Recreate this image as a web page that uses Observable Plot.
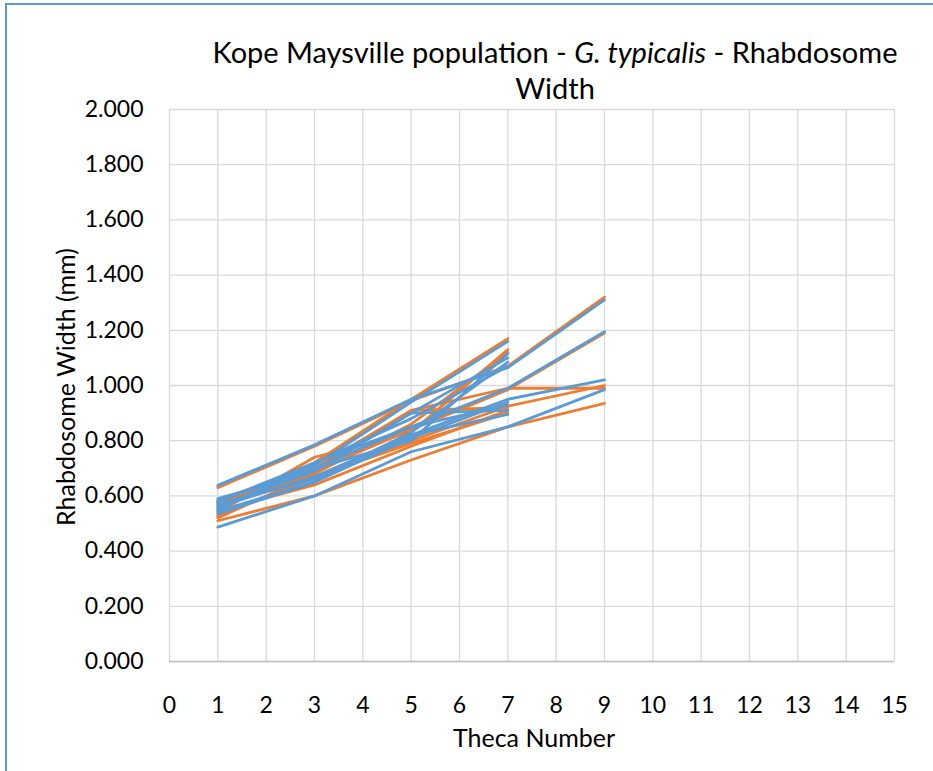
<!DOCTYPE html>
<html>
<head>
<meta charset="utf-8">
<script src="https://cdn.jsdelivr.net/npm/d3@7"></script>
<script src="https://cdn.jsdelivr.net/npm/@observablehq/plot@0.6"></script>
<style>
  html, body { margin: 0; padding: 0; background: #fff; }
  #wrap { position: relative; width: 933px; height: 771px; overflow: hidden; font-family: Lato, "Open Sans", sans-serif; color: #000; }
  #frame { position: absolute; left: 5px; top: 3px; width: 940px; height: 780px; border-top: 2px solid #5B9BD5; border-left: 2px solid #5B9BD5; box-sizing: border-box; pointer-events: none; }
  #title { position: absolute; left: 175px; width: 760px; top: 34px; text-align: center; font-size: 29px; line-height: 36px; }
  #ylabel { position: absolute; left: 65px; top: 387px; transform: translate(-50%, -50%) rotate(-90deg); white-space: nowrap; font-size: 25px; }
  #xlabel { position: absolute; left: 534px; top: 737px; transform: translate(-50%, -50%); white-space: nowrap; font-size: 25px; }
  #chart { position: absolute; left: 0; top: 0; }
</style>
</head>
<body>
<div id="wrap">
  <div id="chart"></div>
  <div id="frame"></div>
  <div id="title">Kope Maysville population - <i>G. typicalis</i> - Rhabdosome<br>Width</div>
  <div id="ylabel">Rhabdosome Width (mm)</div>
  <div id="xlabel">Theca Number</div>
</div>
<script>
// Theca positions measured
const thecaNumbers = [1, 3, 5, 7, 9];
// x-axis ticks and y-axis ticks
const xTicks = [0, 1, 2, 3, 4, 5, 6, 7, 8, 9, 10, 11, 12, 13, 14, 15];
const yTicks = [0, 0.2, 0.4, 0.6, 0.8, 1.0, 1.2, 1.4, 1.6, 1.8, 2.0];

// Orange specimens (widths at thecae 1,3,5,7,9)
const orangeSeries = [
  [0.630, 0.780, 0.945, 1.070, 1.320],
  [0.575, 0.690, 0.840, 0.985, 1.190],
  [0.560, 0.680, 0.910, 0.990, 0.990],
  [0.530, 0.665, 0.800, 0.925, 1.000],
  [0.510, 0.600, 0.730, 0.850, 0.935],
  [0.570, 0.720, 0.950, 1.170],
  [0.540, 0.740, 0.830, 1.130],
  [0.520, 0.680, 0.860, 1.120],
  [0.575, 0.700, 0.910, 0.920],
  [0.525, 0.670, 0.790, 0.900],
  [0.545, 0.640, 0.780, 0.910]
];
// Blue specimens (widths at thecae 1,3,5,7,9)
const blueSeries = [
  [0.638, 0.785, 0.950, 1.065, 1.310],
  [0.585, 0.700, 0.850, 0.990, 1.195],
  [0.545, 0.650, 0.820, 0.950, 1.020],
  [0.487, 0.600, 0.760, 0.850, 0.985],
  [0.580, 0.710, 0.940, 1.160],
  [0.555, 0.700, 0.800, 1.115],
  [0.590, 0.690, 0.900, 1.100],
  [0.570, 0.660, 0.830, 1.085],
  [0.550, 0.720, 0.880, 1.070],
  [0.565, 0.690, 0.900, 0.910],
  [0.535, 0.650, 0.810, 0.940],
  [0.560, 0.670, 0.820, 0.895],
  [0.580, 0.720, 0.850, 0.930]
];

function toRows(series, prefix) {
  const rows = [];
  series.forEach((vals, i) => vals.forEach((v, j) => rows.push({id: prefix + i, x: thecaNumbers[j], y: v})));
  return rows;
}
const orangeRows = toRows(orangeSeries, "o");
const blueRows = toRows(blueSeries, "b");

const chart = Plot.plot({
  width: 933,
  height: 771,
  marginLeft: 169,
  marginRight: 39,
  marginTop: 109,
  marginBottom: 110,
  style: {fontFamily: "Lato, 'Open Sans', sans-serif", fontSize: "24px", color: "#000", background: "transparent", overflow: "visible"},
  x: {domain: [0, 15]},
  y: {domain: [0, 2]},
  marks: [
    Plot.gridX(xTicks, {stroke: "#D9D9D9", strokeOpacity: 1, strokeWidth: 1.3}),
    Plot.gridY(yTicks, {stroke: "#D9D9D9", strokeOpacity: 1, strokeWidth: 1.3}),
    Plot.ruleY([0], {stroke: "#BFBFBF", strokeWidth: 1.5}),
    Plot.line(orangeRows, {x: "x", y: "y", z: "id", stroke: "#ED7D31", strokeWidth: 2.8, strokeLinejoin: "round", strokeLinecap: "round"}),
    Plot.line(blueRows, {x: "x", y: "y", z: "id", stroke: "#5B9BD5", strokeWidth: 2.8, strokeLinejoin: "round", strokeLinecap: "round"}),
    Plot.axisX(xTicks, {tickSize: 0, tickPadding: 35, label: null, fontSize: 23}),
    Plot.axisY(yTicks, {tickSize: 0, tickPadding: 26, label: null, tickFormat: d3.format(".3f"), fontSize: 23})
  ]
});
document.getElementById("chart").appendChild(chart);
</script>
</body>
</html>
